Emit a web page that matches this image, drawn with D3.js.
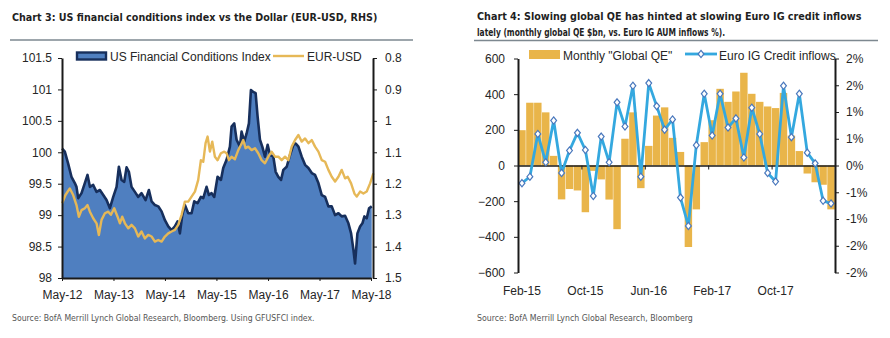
<!DOCTYPE html>
<html>
<head>
<meta charset="utf-8">
<script src="https://cdn.jsdelivr.net/npm/d3@7"></script>
<style>
  body { margin: 0; background: #fff; }
  svg { display: block; }
  text { font-family: "Liberation Sans", Arial, sans-serif; }
  .title { font-family: "Liberation Sans Narrow", "DejaVu Sans Condensed", sans-serif; font-weight: bold; font-size: 13px; fill: #1f1f1f; }
  .source { font-family: "Liberation Sans Narrow", "DejaVu Sans Condensed", sans-serif; font-size: 9px; fill: #555; }
  .axis .tick text { font-size: 12px; fill: #262626; }
  .legend { font-size: 12px; fill: #262626; }
</style>
</head>
<body>
<svg id="chart" width="890" height="338"></svg>
<script>
// ---- Chart 3 data (decimal year, value) ----
const fciYears = [2012.333, 2012.385, 2012.450, 2012.514, 2012.579, 2012.611, 2012.644, 2012.709, 2012.773, 2012.825,
  2012.871, 2012.935, 2013.000, 2013.065, 2013.130, 2013.194, 2013.259, 2013.324, 2013.389, 2013.434,
  2013.486, 2013.538, 2013.583, 2013.628, 2013.680, 2013.745, 2013.810, 2013.874, 2013.952, 2014.017,
  2014.069, 2014.134, 2014.198, 2014.263, 2014.328, 2014.393, 2014.457, 2014.522, 2014.574, 2014.619,
  2014.665, 2014.716, 2014.781, 2014.846, 2014.898, 2014.963, 2015.027, 2015.073, 2015.137, 2015.183,
  2015.235, 2015.286, 2015.351, 2015.416, 2015.461, 2015.526, 2015.591, 2015.623, 2015.675, 2015.720,
  2015.785, 2015.817, 2015.869, 2015.915, 2015.960, 2015.999, 2016.044, 2016.090, 2016.128, 2016.174,
  2016.219, 2016.271, 2016.323, 2016.368, 2016.433, 2016.478, 2016.530, 2016.582, 2016.627, 2016.692,
  2016.757, 2016.822, 2016.867, 2016.919, 2016.983, 2017.048, 2017.113, 2017.178, 2017.242, 2017.307,
  2017.372, 2017.437, 2017.501, 2017.566, 2017.631, 2017.696, 2017.760, 2017.825, 2017.890, 2017.942,
  2017.987, 2018.019, 2018.065, 2018.117, 2018.162, 2018.201, 2018.246, 2018.291, 2018.343];
const fciValues = [100.06, 100.01, 99.82, 99.61, 99.51, 99.45, 99.27, 99.35, 99.51, 99.64,
  99.45, 99.48, 99.37, 99.40, 99.32, 99.24, 99.11, 99.29, 99.45, 99.77,
  99.56, 99.53, 99.76, 99.69, 99.45, 99.37, 99.29, 99.35, 99.24, 99.40,
  99.22, 99.16, 99.14, 99.06, 98.92, 98.82, 98.76, 98.82, 98.90, 98.71,
  99.00, 99.16, 99.03, 99.03, 99.22, 99.19, 99.29, 99.27, 99.45, 99.32,
  99.35, 99.29, 99.61, 99.56, 99.75, 99.88, 100.09, 100.41, 100.46, 100.20,
  100.09, 100.33, 100.17, 100.30, 100.46, 100.99, 100.96, 100.94, 100.57, 100.20,
  100.09, 99.93, 100.12, 99.96, 99.93, 99.69, 99.61, 99.56, 99.72, 99.77,
  99.96, 100.12, 100.14, 100.09, 99.93, 99.80, 99.75, 99.67, 99.64, 99.51,
  99.32, 99.29, 99.14, 99.14, 99.00, 99.03, 98.98, 98.99, 98.87, 98.71,
  98.45, 98.23, 98.71, 98.82, 98.87, 98.98, 98.95, 99.11, 99.14];

const eurYears = [2012.333, 2012.398, 2012.482, 2012.547, 2012.611, 2012.657, 2012.709, 2012.773, 2012.825, 2012.871,
  2012.935, 2013.000, 2013.045, 2013.097, 2013.162, 2013.227, 2013.279, 2013.343, 2013.408, 2013.454,
  2013.499, 2013.551, 2013.616, 2013.680, 2013.745, 2013.810, 2013.874, 2013.939, 2014.004, 2014.069,
  2014.134, 2014.198, 2014.263, 2014.328, 2014.393, 2014.457, 2014.522, 2014.587, 2014.652, 2014.716,
  2014.781, 2014.846, 2014.911, 2014.975, 2015.027, 2015.073, 2015.118, 2015.157, 2015.202, 2015.248,
  2015.299, 2015.351, 2015.416, 2015.481, 2015.526, 2015.572, 2015.623, 2015.688, 2015.753, 2015.805,
  2015.850, 2015.895, 2015.947, 2016.012, 2016.077, 2016.141, 2016.206, 2016.271, 2016.336, 2016.400,
  2016.465, 2016.530, 2016.595, 2016.660, 2016.724, 2016.789, 2016.854, 2016.919, 2016.983, 2017.048,
  2017.113, 2017.178, 2017.242, 2017.307, 2017.372, 2017.437, 2017.501, 2017.566, 2017.631, 2017.696,
  2017.760, 2017.825, 2017.877, 2017.942, 2018.006, 2018.052, 2018.117, 2018.181, 2018.246, 2018.311,
  2018.375];
const eurValues = [1.262, 1.236, 1.215, 1.236, 1.268, 1.305, 1.284, 1.278, 1.268, 1.289,
  1.310, 1.326, 1.363, 1.315, 1.294, 1.289, 1.299, 1.278, 1.305, 1.326,
  1.305, 1.326, 1.342, 1.331, 1.342, 1.368, 1.352, 1.374, 1.363, 1.368,
  1.384, 1.379, 1.384, 1.368, 1.358, 1.352, 1.347, 1.331, 1.299, 1.257,
  1.257, 1.241, 1.225, 1.188, 1.125, 1.130, 1.071, 1.050, 1.098, 1.066,
  1.114, 1.125, 1.103, 1.098, 1.103, 1.125, 1.114, 1.122, 1.093, 1.077,
  1.061, 1.087, 1.082, 1.093, 1.087, 1.103, 1.125, 1.135, 1.114, 1.098,
  1.114, 1.114, 1.125, 1.114, 1.125, 1.082, 1.061, 1.045, 1.066, 1.056,
  1.071, 1.061, 1.082, 1.098, 1.125, 1.130, 1.156, 1.178, 1.193, 1.178,
  1.156, 1.183, 1.178, 1.199, 1.231, 1.241, 1.225, 1.231, 1.225, 1.199,
  1.167];

const fciTicks = [98, 98.5, 99, 99.5, 100, 100.5, 101, 101.5];
const eurTicks = [0.8, 0.9, 1, 1.1, 1.2, 1.3, 1.4, 1.5];
const chart3XTicks = [2012, 2013, 2014, 2015, 2016, 2017, 2018];

// ---- Chart 4 data ----
const qeMonths = ["Feb-15", "Mar-15", "Apr-15", "May-15", "Jun-15", "Jul-15", "Aug-15", "Sep-15",
  "Oct-15", "Nov-15", "Dec-15", "Jan-16", "Feb-16", "Mar-16", "Apr-16", "May-16",
  "Jun-16", "Jul-16", "Aug-16", "Sep-16", "Oct-16", "Nov-16", "Dec-16", "Jan-17",
  "Feb-17", "Mar-17", "Apr-17", "May-17", "Jun-17", "Jul-17", "Aug-17", "Sep-17",
  "Oct-17", "Nov-17", "Dec-17", "Jan-18", "Feb-18", "Mar-18", "Apr-18", "May-18"];
const globalQE = [198, 352, 352, 298, 54, -190, -132, -140, -262, -30,
  -78, -191, -357, 150, 298, -127, 110, 280, 326, 155,
  76, -457, -246, 131, 254, 430, 357, 415, 520, 402,
  357, 331, 322, 407, 168, 81, -45, -94, -108, -246];
const igInflows = [-0.33, -0.21, 0.59, 0.06, 0.84, -0.14, 0.28, 0.61, 0.29, -0.57,
  0.54, 0.06, 1.18, 0.73, 1.49, -0.21, 1.54, 1.11, 0.67, 0.86,
  -0.60, -1.13, 0.38, 1.34, 0.56, 1.34, 0.71, 0.88, 0.15, 1.08,
  0.59, -0.14, -0.30, 1.49, 0.53, 1.34, 0.24, 0.04, -0.66, -0.71];
const qeTicks = [-600, -400, -200, 0, 200, 400, 600];
const inflowTicks = [-2, -1.5, -1, -0.5, 0, 0.5, 1, 1.5, 2];
const inflowTickLabels = ["-2%", "-2%", "-1%", "-1%", "0%", "1%", "1%", "2%", "2%"];

const svg = d3.select("#chart");

function toDate(y) {
  const yr = Math.floor(y);
  const start = new Date(yr, 0, 1), end = new Date(yr + 1, 0, 1);
  return new Date(+start + (y - yr) * (end - start));
}

function styleAxis(g, width) {
  g.select(".domain").attr("stroke", "#1a1a1a").attr("stroke-width", width);
  g.selectAll(".tick line").attr("stroke", "#1a1a1a").attr("stroke-width", 1);
}

// scale a text's font size so it spans the width seen in the reference
function fitFont(sel, target) {
  const base = parseFloat(getComputedStyle(sel.node()).fontSize);
  const w = sel.node().getComputedTextLength();
  const size = base * target / w;
  sel.style("font-size", size + "px");
  return size;
}

// ================= Chart 3 =================
const title3 = svg.append("text").attr("class", "title").attr("x", 12).attr("y", 20.5)
  .text("Chart 3: US financial conditions index vs the Dollar (EUR-USD, RHS)");
fitFont(title3, 366);
svg.append("line").attr("x1", 10).attr("x2", 413).attr("y1", 40).attr("y2", 40)
  .attr("stroke", "#7d8890").attr("stroke-width", 1.5);

const x3 = d3.scaleTime().domain([new Date(2012, 4, 1), new Date(2018, 4, 1)]).range([62, 371]);
const yFci = d3.scaleLinear().domain([98, 101.5]).range([278, 58]);
const yEur = d3.scaleLinear().domain([0.8, 1.5]).range([58, 278]);

const fciData = fciYears.map((y, i) => ({ date: toDate(y), v: fciValues[i] }));
const eurData = eurYears.map((y, i) => ({ date: toDate(y), v: eurValues[i] }));

svg.append("path").datum(fciData)
  .attr("fill", "#4f7fc0")
  .attr("d", d3.area().x(d => x3(d.date)).y0(yFci(98)).y1(d => yFci(d.v)));
svg.append("path").datum(fciData)
  .attr("fill", "none").attr("stroke", "#172f5c").attr("stroke-width", 2.6)
  .attr("stroke-linejoin", "round")
  .attr("d", d3.line().x(d => x3(d.date)).y(d => yFci(d.v)));
svg.append("path").datum(eurData)
  .attr("fill", "none").attr("stroke", "#e6b857").attr("stroke-width", 2.4)
  .attr("stroke-linejoin", "round")
  .attr("d", d3.line().x(d => x3(d.date)).y(d => yEur(d.v)));

svg.append("g").attr("class", "axis").attr("transform", "translate(62,0)")
  .call(d3.axisLeft(yFci).tickValues(fciTicks).tickSize(4).tickSizeOuter(0).tickPadding(6).tickFormat(d => d))
  .call(g => styleAxis(g, 2));
svg.append("g").attr("class", "axis").attr("transform", "translate(373,0)")
  .call(d3.axisRight(yEur).tickValues(eurTicks).tickSize(4).tickSizeOuter(0).tickPadding(8).tickFormat(d => d))
  .call(g => styleAxis(g, 2));
svg.append("g").attr("class", "axis").attr("transform", "translate(0,278)")
  .call(d3.axisBottom(x3).tickValues(chart3XTicks.map(y => new Date(y, 4, 1))).tickSize(3)
    .tickSizeOuter(0).tickPadding(9).tickFormat(d3.timeFormat("%b-%y")))
  .call(g => styleAxis(g, 2));

// legend
svg.append("rect").attr("x", 77).attr("y", 52.5).attr("width", 29).attr("height", 7)
  .attr("fill", "#4f7fc0").attr("stroke", "#172f5c").attr("stroke-width", 2.4);
svg.append("text").attr("class", "legend").attr("x", 110).attr("y", 60.5).text("US Financial Conditions Index");
svg.append("line").attr("x1", 273).attr("x2", 304).attr("y1", 56).attr("y2", 56)
  .attr("stroke", "#e6b857").attr("stroke-width", 2.4);
svg.append("text").attr("class", "legend").attr("x", 307).attr("y", 60.5).text("EUR-USD");

const source3 = svg.append("text").attr("class", "source").attr("x", 12).attr("y", 321)
  .text("Source:  BofA Merrill Lynch Global Research, Bloomberg. Using  GFUSFCI index.");
fitFont(source3, 303);

// ================= Chart 4 =================
const title4a = svg.append("text").attr("class", "title").attr("x", 477).attr("y", 20)
  .text("Chart 4: Slowing global QE has hinted at slowing Euro IG credit inflows");
const t4size = fitFont(title4a, 385);
svg.append("text").attr("class", "title").attr("x", 477).attr("y", 36)
  .style("font-size", t4size + "px")
  .attr("textLength", 248).attr("lengthAdjust", "spacingAndGlyphs")
  .text("lately (monthly global QE $bn, vs. Euro IG AUM inflows %).");
svg.append("line").attr("x1", 474).attr("x2", 878).attr("y1", 40.5).attr("y2", 40.5)
  .attr("stroke", "#7d8890").attr("stroke-width", 1.5);

const x4 = d3.scaleBand().domain(qeMonths).range([518, 835]).paddingInner(0.06).paddingOuter(0.03);
const idx4 = d3.scaleLinear().domain([0, qeMonths.length]).range([518, 835]);
const yQe = d3.scaleLinear().domain([-600, 600]).range([272.5, 58.5]);
const yIn = d3.scaleLinear().domain([-2, 2]).range([272.5, 58.5]);

svg.append("g").selectAll("rect").data(globalQE).join("rect")
  .attr("x", (d, i) => x4(qeMonths[i]))
  .attr("width", x4.bandwidth())
  .attr("y", d => yQe(Math.max(0, d)))
  .attr("height", d => Math.abs(yQe(d) - yQe(0)))
  .attr("fill", "#e9b54a");

// zero axis with boundary ticks every 8 months
svg.append("g").attr("class", "axis").attr("transform", `translate(0,${yQe(0)})`)
  .call(d3.axisBottom(idx4).tickValues(d3.range(0, qeMonths.length + 1, 8)).tickSize(4).tickSizeOuter(0).tickFormat(""))
  .call(g => styleAxis(g, 1.6));

svg.append("g").attr("class", "axis").attr("transform", "translate(0,286)")
  .call(d3.axisBottom(x4).tickValues(qeMonths.filter((m, i) => i % 8 === 0)).tickSize(0).tickPadding(0))
  .call(g => g.select(".domain").remove());

const inflowLine = d3.line()
  .x((d, i) => x4(qeMonths[i]) + x4.bandwidth() / 2)
  .y(d => yIn(d));
svg.append("path").datum(igInflows)
  .attr("fill", "none").attr("stroke", "#34a8df").attr("stroke-width", 2.8)
  .attr("stroke-linejoin", "round").attr("d", inflowLine);

const diamond = "M0,-3.6L2.9,0L0,3.6L-2.9,0Z";
svg.append("g").selectAll("path").data(igInflows).join("path")
  .attr("transform", (d, i) => `translate(${x4(qeMonths[i]) + x4.bandwidth() / 2},${yIn(d)})`)
  .attr("d", diamond)
  .attr("fill", "#fff").attr("stroke", "#4a78bd").attr("stroke-width", 1.2);

svg.append("g").attr("class", "axis").attr("transform", "translate(518,0)")
  .call(d3.axisLeft(yQe).tickValues(qeTicks).tickSize(4).tickSizeOuter(0).tickPadding(9))
  .call(g => styleAxis(g, 2));
svg.append("g").attr("class", "axis").attr("transform", "translate(835,0)")
  .call(d3.axisRight(yIn).tickValues(inflowTicks).tickSize(4).tickSizeOuter(0).tickPadding(7)
    .tickFormat((d, i) => inflowTickLabels[i]))
  .call(g => styleAxis(g, 2));

// legend
svg.append("rect").attr("x", 529).attr("y", 50).attr("width", 31).attr("height", 9).attr("fill", "#e9b54a");
svg.append("text").attr("class", "legend").attr("x", 563).attr("y", 59.5).text("Monthly \"Global QE\"");
svg.append("line").attr("x1", 685).attr("x2", 717).attr("y1", 54).attr("y2", 54)
  .attr("stroke", "#34a8df").attr("stroke-width", 2.8);
svg.append("path").attr("transform", "translate(701,54)").attr("d", diamond)
  .attr("fill", "#fff").attr("stroke", "#4a78bd").attr("stroke-width", 1.2);
svg.append("text").attr("class", "legend").attr("x", 719).attr("y", 59.5).text("Euro IG Credit inflows");

const source4 = svg.append("text").attr("class", "source").attr("x", 477).attr("y", 321)
  .text("Source:  BofA Merrill Lynch Global Research, Bloomberg");
fitFont(source4, 216);
</script>
</body>
</html>
